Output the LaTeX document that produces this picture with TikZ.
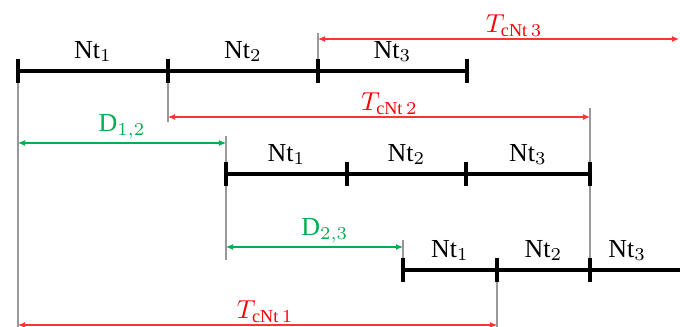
\documentclass[tikz,border=0pt]{standalone}
\usepackage{fontspec}
\setmainfont{Liberation Serif}
\usetikzlibrary{arrows.meta}
\definecolor{tcred}{HTML}{FF0000}
\definecolor{dgreen}{HTML}{00B050}

\begin{document}
\begin{tikzpicture}[x=0.385pt, y=-0.385pt,
  track/.style={line width=1.4pt, black},
  tickmark/.style={line width=1.4pt, black},
  guide/.style={black!40, line width=0.4pt},
  tarr/.style={{Latex[length=2.7pt,width=2.3pt]}-{Latex[length=2.7pt,width=2.3pt]}, tcred!80, line width=0.4pt},
  darr/.style={{Latex[length=2.7pt,width=2.3pt]}-{Latex[length=2.7pt,width=2.3pt]}, dgreen, line width=0.4pt},
  nlbl/.style={above=2.8pt, inner sep=0pt},
  dlbl/.style={above=1.2pt, inner sep=0pt, text=dgreen},
  tlbl/.style={above=0.8pt, inner sep=0pt, text=tcred}]
\useasboundingbox (0,0) rectangle (680,327);
% ticks of the three rows
\coordinate (r1a) at (18,71);
\coordinate (r1b) at (168,71);
\coordinate (r1c) at (318,71);
\coordinate (r1d) at (467,71);
\coordinate (r2a) at (226,174);
\coordinate (r2b) at (347,174);
\coordinate (r2c) at (466,174);
\coordinate (r2d) at (590,174);
\coordinate (r3a) at (403,270);
\coordinate (r3b) at (497,270);
\coordinate (r3c) at (590,270);
\coordinate (r3end) at (680,270);
% ends of the dimension arrows
\coordinate (tc3a) at (318,39);
\coordinate (tc3b) at (679,39);
\coordinate (tc2a) at (168,117);
\coordinate (tc2b) at (590,117);
\coordinate (d12a) at (18,143);
\coordinate (d12b) at (226,143);
\coordinate (d23a) at (226,247);
\coordinate (d23b) at (403,247);
\coordinate (tc1a) at (18,325);
\coordinate (tc1b) at (497,325);
% guide lines
\draw[guide] (r1a) -- (18,327);
\draw[guide] (r1b) -- (168,122);
\draw[guide] (318,33) -- (r1c);
\draw[guide] (226,136) -- (226,260);
\draw[guide] (590,108) -- (r3c);
\draw[guide] (403,240) -- (r3a);
\draw[guide] (r3b) -- (497,327);
% tracks
\draw[track] (r1a) -- node[nlbl] (n11) {Nt$_1$} (r1b)
  -- node[nlbl] (n12) {Nt$_2$} (r1c) -- node[nlbl] (n13) {Nt$_3$} (r1d);
\draw[track] (r2a) -- node[nlbl] (n21) {Nt$_1$} (r2b)
  -- node[nlbl] (n22) {Nt$_2$} (r2c) -- node[nlbl] (n23) {Nt$_3$} (r2d);
\draw[track] (r3a) -- node[nlbl] (n31) {Nt$_1$} (r3b)
  -- node[nlbl] (n32) {Nt$_2$} (r3c) -- node[nlbl, xshift=-3pt] (n33) {Nt$_3$} (r3end);
\foreach \t in {r1a,r1b,r1c,r1d,r2a,r2b,r2c,r2d,r3a,r3b,r3c}
  \draw[tickmark] ([yshift=4.8pt]\t) -- ([yshift=-4.8pt]\t);
% durations
\draw[tarr] (tc3a) -- node[tlbl, xshift=6pt] (tc3) {$T_{\mathrm{cNt}\,3}$} (tc3b);
\draw[tarr] (tc2a) -- node[tlbl, xshift=4pt] (tc2) {$T_{\mathrm{cNt}\,2}$} (tc2b);
\draw[tarr] (tc1a) -- node[tlbl, xshift=3pt] (tc1) {$T_{\mathrm{cNt}\,1}$} (tc1b);
\draw[darr] (d12a) -- node[dlbl] (d12) {D$_{1,2}$} (d12b);
\draw[darr] (d23a) -- node[dlbl, xshift=4pt] (d23) {D$_{2,3}$} (d23b);
\end{tikzpicture}
\end{document}
